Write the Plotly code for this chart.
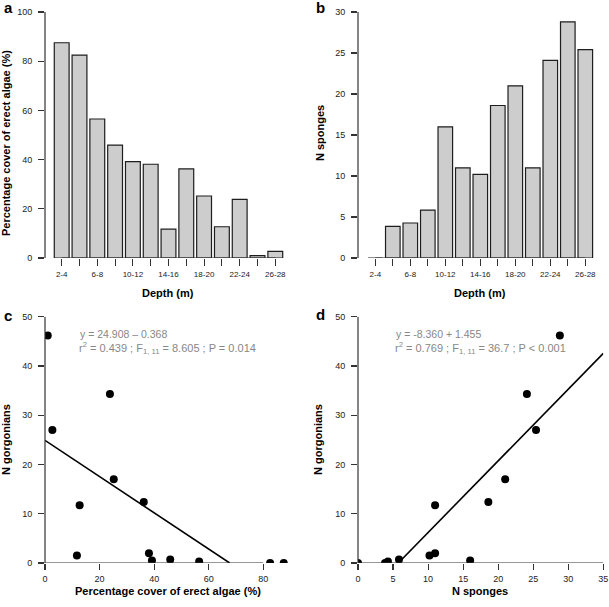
import plotly.graph_objects as go

# ---------------- data ----------------
depth_labels = ["2-4", "4-6", "6-8", "8-10", "10-12", "12-14", "14-16",
                "16-18", "18-20", "20-22", "22-24", "24-26", "26-28"]
algae_cover = [87.5, 82.5, 56.5, 45.9, 39.2, 38.1, 11.7, 36.2, 25.2, 12.7, 23.8, 1.0, 2.7]
n_sponges = [0, 3.86, 4.27, 5.85, 16.0, 11.0, 10.2, 18.6, 21.0, 11.0, 24.1, 28.8, 25.4]
n_gorgonians = [0, 0, 0.3, 0.7, 0.5, 2.0, 1.5, 12.4, 17.0, 11.7, 34.3, 46.2, 27.0]

reg_c = (24.908, -0.368)   # intercept, slope (gorgonians ~ algae)
reg_d = (-8.360, 1.455)    # intercept, slope (gorgonians ~ sponges)

ticks_a_y = [0, 20, 40, 60, 80, 100]
ticks_b_y = [0, 5, 10, 15, 20, 25, 30]
ticks_c_x = [0, 20, 40, 60, 80]
ticks_d_x = [0, 5, 10, 15, 20, 25, 30, 35]
ticks_cd_y = [0, 10, 20, 30, 40, 50]

eq_c = ["y = 24.908 \u2013 0.368",
        "r<sup>2</sup> = 0.439 ; F<sub>1, 11</sub> = 8.605 ; P = 0.014"]
eq_d = ["y = -8.360 + 1.455",
        "r<sup>2</sup> = 0.769 ; F<sub>1, 11</sub> = 36.7 ; P &lt; 0.001"]

# ---------------- layout helpers ----------------
W, H = 609, 607
FONT = "Arial, Liberation Sans, sans-serif"
px = lambda x: x / W
py = lambda y: 1 - y / H

idx = list(range(len(depth_labels)))
tick_text_depth = [lab if i % 2 == 0 else "" for i, lab in enumerate(depth_labels)]

fig = go.Figure()

bar_style = dict(marker=dict(color="#cdcdcd", line=dict(color="#1e1e1e", width=1.2)),
                 width=0.833, showlegend=False, hoverinfo="skip")
fig.add_trace(go.Bar(x=idx, y=algae_cover, xaxis="x", yaxis="y", **bar_style))
fig.add_trace(go.Bar(x=idx, y=n_sponges, xaxis="x2", yaxis="y2", **bar_style))

pt_style = dict(mode="markers", marker=dict(color="black", size=8), showlegend=False,
                cliponaxis=True, hoverinfo="skip")
fig.add_trace(go.Scatter(x=algae_cover, y=n_gorgonians, xaxis="x3", yaxis="y3", **pt_style))
fig.add_trace(go.Scatter(x=n_sponges, y=n_gorgonians, xaxis="x4", yaxis="y4", **pt_style))

# regression lines
b0, b1 = reg_c
xc = [0, -b0 / b1]
fig.add_trace(go.Scatter(x=xc, y=[b0 + b1 * v for v in xc], mode="lines",
                         line=dict(color="black", width=1.6), xaxis="x3", yaxis="y3",
                         showlegend=False, hoverinfo="skip"))
b0, b1 = reg_d
xd = [-b0 / b1, ticks_d_x[-1]]
fig.add_trace(go.Scatter(x=xd, y=[b0 + b1 * v for v in xd], mode="lines",
                         line=dict(color="black", width=1.6), xaxis="x4", yaxis="y4",
                         showlegend=False, hoverinfo="skip"))

tickfont = dict(family=FONT, size=9, color="#222")
small_tickfont = dict(family=FONT, size=8, color="#222")

def axis(**kw):
    d = dict(showgrid=False, zeroline=False, showline=False, ticks="outside",
             ticklen=6, tickwidth=1.1, tickcolor="#333", tickfont=tickfont,
             fixedrange=True, automargin=False, tickmode="array")
    d.update(kw)
    return d

top_ab, bot_ab = 12, 258
top_cd, bot_cd = 316.7, 563

fig.update_layout(
    width=W, height=H, autosize=False,
    margin=dict(l=0, r=0, t=0, b=0, pad=0),
    paper_bgcolor="white", plot_bgcolor="white",
    bargap=0,
    # panel a
    xaxis=axis(domain=[px(45), px(290)], range=[-0.938, 12.826], anchor="y",
               tickvals=idx, ticktext=tick_text_depth, ticklen=7, tickfont=small_tickfont,
               ticklabelstandoff=1),
    yaxis=axis(domain=[py(bot_ab), py(top_ab)], range=[0, 100], anchor="x",
               tickvals=ticks_a_y, ticklabelstandoff=4),
    # panel b
    xaxis2=axis(domain=[px(358), px(600)], range=[-0.989, 12.84], anchor="y2",
                tickvals=idx, ticktext=tick_text_depth, ticklen=7, tickfont=small_tickfont,
                ticklabelstandoff=1),
    yaxis2=axis(domain=[py(bot_ab), py(top_ab)], range=[0, 30], anchor="x2",
                tickvals=ticks_b_y, ticklabelstandoff=4),
    # panel c
    xaxis3=axis(domain=[px(45), px(290)], range=[0, 89.8], anchor="y3",
                tickvals=ticks_c_x, ticklabelstandoff=1),
    yaxis3=axis(domain=[py(bot_cd), py(top_cd)], range=[0, 50], anchor="x3",
                tickvals=ticks_cd_y, ticklabelstandoff=4),
    # panel d
    xaxis4=axis(domain=[px(358), px(603.3)], range=[0, 35], anchor="y4",
                tickvals=ticks_d_x, ticklabelstandoff=1),
    yaxis4=axis(domain=[py(bot_cd), py(top_cd)], range=[0, 50], anchor="x4",
                tickvals=ticks_cd_y, ticklabelstandoff=4),
)

# axis lines (R style: spanning tick range only)
axcol, axw = "#333", 1.2
shapes = []
def hline(xref, yref, x0, x1, y):
    shapes.append(dict(type="line", xref=xref, yref=yref, x0=x0, x1=x1, y0=y, y1=y,
                       line=dict(color=axcol, width=axw), layer="above"))
def vline(xref, yref, y0, y1):
    shapes.append(dict(type="line", xref=xref + " domain", yref=yref, x0=0, x1=0, y0=y0, y1=y1,
                       line=dict(color=axcol, width=axw), layer="above"))
hline("x", "y", idx[0], idx[-1], 0)
vline("x", "y", ticks_a_y[0], ticks_a_y[-1])
hline("x2", "y2", idx[0], idx[-1], 0)
vline("x2", "y2", ticks_b_y[0], ticks_b_y[-1])
hline("x3", "y3", ticks_c_x[0], ticks_c_x[-1], 0)
vline("x3", "y3", ticks_cd_y[0], ticks_cd_y[-1])
hline("x4", "y4", ticks_d_x[0], ticks_d_x[-1], 0)
vline("x4", "y4", ticks_cd_y[0], ticks_cd_y[-1])
fig.update_layout(shapes=shapes)

# titles, panel letters, equations
ann = []
def txt(x, y, s, size=11, bold=True, angle=0, color="black", xanchor="center"):
    ann.append(dict(x=px(x), y=py(y), xref="paper", yref="paper",
                    text=("<b>" + s + "</b>") if bold else s, showarrow=False,
                    textangle=angle, xanchor=xanchor, yanchor="middle",
                    font=dict(family=FONT, size=size, color=color)))

txt(6, 143, "Percentage cover of erect algae (%)", angle=-90)
txt(168, 293, "Depth (m)")
txt(320, 133, "N sponges", angle=-90)
txt(480, 293, "Depth (m)")
txt(6, 440, "N gorgonians", angle=-90)
txt(168, 591, "Percentage cover of erect algae (%)")
txt(318, 440, "N gorgonians", angle=-90)
txt(480, 591, "N sponges")

txt(8, 8, "a", size=15)
txt(320, 8, "b", size=15)
txt(8, 315, "c", size=15)
txt(320, 314, "d", size=15)

gray = "#878787"
txt(78, 334, eq_c[0], size=10.5, bold=False, color=gray, xanchor="left")
txt(77, 348, eq_c[1], size=11, bold=False, color=gray, xanchor="left")
txt(394, 334, eq_d[0], size=10.5, bold=False, color=gray, xanchor="left")
txt(393, 348, eq_d[1], size=11, bold=False, color=gray, xanchor="left")
fig.update_layout(annotations=ann)

fig.write_html("out.html", config={"displayModeBar": False, "staticPlot": True},
               post_script="document.body.style.margin='0';document.body.style.padding='0';"
                           "document.body.style.overflow='hidden';")
